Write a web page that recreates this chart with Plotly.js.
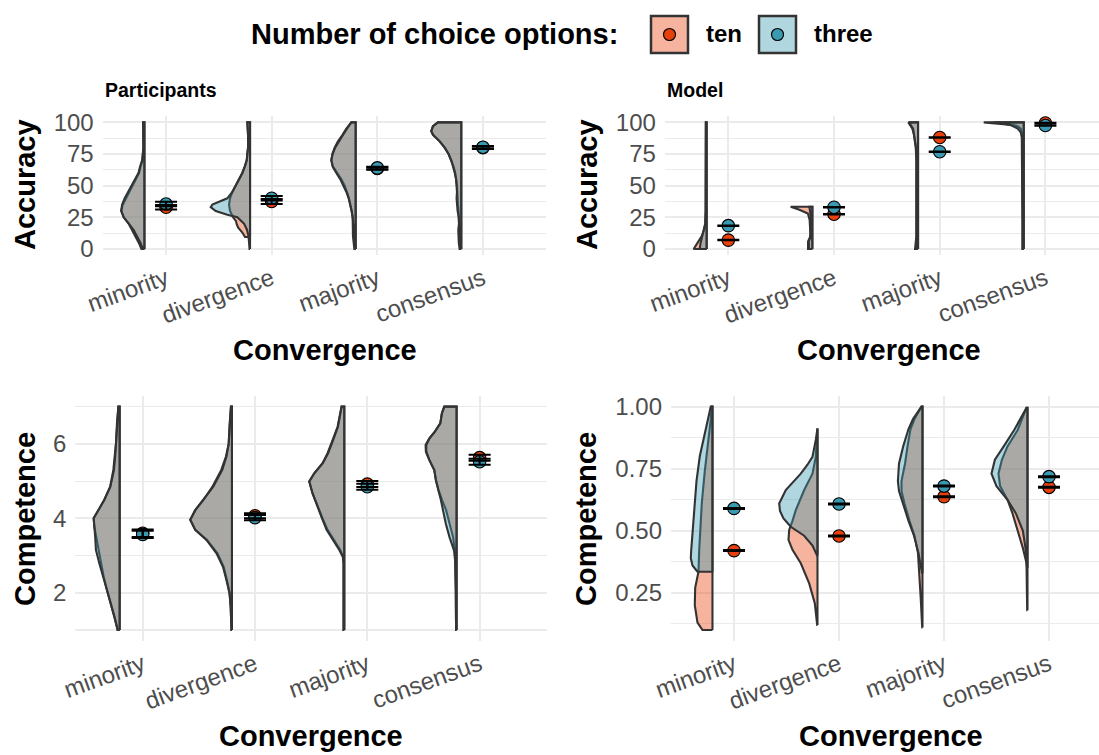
<!DOCTYPE html>
<html>
<head>
<meta charset="utf-8">
<script src="https://cdn.plot.ly/plotly-3.0.1.min.js"></script>
<style>html,body{margin:0;padding:0;background:#fff;}#chart{width:1099px;height:755px;}</style>
</head>
<body>
<div id="chart"></div>
<script>
// ---------------- DATA ----------------
const categories = ['minority', 'divergence', 'majority', 'consensus'];
const groupNames = ['ten', 'three'];

// Density profiles of the half violins: [value, density]
// Participants - Accuracy
const accP_minority_ten   = [[0,3],[5,5.7],[10,9],[15,12.3],[20,15.7],[25,20.7],[30,23],[35,21.7],[40,18.3],[45,14.7],[50,11.3],[55,8.3],[60,5.3],[65,4],[70,2],[80,1],[90,0.8],[100,1.3]];
const accP_minority_three = [[0,1.5],[5,4],[10,7.3],[15,10.7],[20,15.7],[25,20.7],[30,23.3],[35,22.3],[40,19.7],[45,16.3],[50,12.7],[55,9.3],[60,6],[65,4.3],[70,2.3],[80,1],[90,0.8],[100,1.3]];
const accP_divergence_ten   = [[9.5,5],[13,7.7],[17,12],[20,13.5],[22,14],[25,17],[30,20],[35,21],[40,20],[45,17.7],[50,14.3],[55,11],[60,7.7],[65,5.3],[70,3.3],[75,2.7],[80,2],[90,2],[100,2.7]];
const accP_divergence_three = [[0,0.5],[5,1],[10,1.5],[15,3],[20,6],[25,12.7],[27,22.7],[30,34.3],[33,39.3],[35,37.7],[37,31],[40,22.7],[45,17.7],[50,14.3],[55,11],[60,7.7],[65,5.3],[70,3.3],[75,2.7],[80,2],[90,2],[100,2.7]];
const accP_majority_ten   = [[0,1.3],[10,2.7],[20,2.7],[25,3],[30,4],[35,5.3],[40,6.7],[45,8.7],[50,11],[55,14.3],[60,18.7],[65,22.7],[70,24.3],[75,23.3],[80,21],[85,17.7],[90,13.3],[95,9.3],[100,4.3]];
const accP_majority_three = [[0,0.7],[10,1],[20,2],[25,3],[30,4],[35,5.3],[40,7],[45,9.3],[50,12],[55,15.3],[60,19.3],[65,23],[70,24.3],[75,23],[80,20.5],[85,17],[90,12.7],[95,8.7],[100,4.3]];
const accP_consensus_ten   = [[0,1.7],[5,2.5],[10,3],[15,3],[20,2.3],[25,2.3],[30,2.7],[35,3.3],[40,4],[45,4],[50,4.3],[55,5],[60,6],[65,7.7],[70,10],[75,12.7],[80,16.7],[85,21.7],[90,28.3],[93,30],[97,28.3],[100,23.3]];
const accP_consensus_three = [[0,1],[5,1.5],[10,1.7],[15,2],[20,2.3],[25,2.5],[30,3.7],[35,4.3],[40,4.7],[45,4.3],[50,4.5],[55,5.2],[60,6.5],[65,8],[70,10],[75,12.7],[80,16.5],[85,21.5],[90,28],[93,30],[97,28.3],[100,23.3]];

// Model - Accuracy
const accM_minority_ten   = [[0,13],[5,9],[10,5],[15,2.5],[20,1.3],[30,1],[50,0.8],[75,0.8],[100,0.8]];
const accM_minority_three = [[0,7],[5,6],[10,4.5],[15,2.7],[20,1.5],[30,1],[50,0.8],[75,0.8],[100,0.8]];
const accM_divergence_ten   = [[0,4.3],[6,4.3],[9,2.5],[12,2],[20,2.3],[23,2.7],[28,4.5],[31,13],[33.3,21.7]];
const accM_divergence_three = [[0,3.3],[6,3.5],[9,2],[12,1.7],[20,1.7],[28,2],[31,2.5],[33.3,3]];
const accM_majority_ten   = [[0,3],[10,1.7],[30,1.5],[50,1.5],[70,1.7],[80,2.3],[90,4],[95,5.7],[100,9.7]];
const accM_majority_three = [[0,2],[10,1.5],[30,1.3],[50,1.3],[70,1.5],[80,2],[90,3.5],[95,5],[100,9]];
const accM_consensus_ten   = [[0,1.3],[20,1.3],[50,1.3],[80,1.3],[88,1.5],[92,2],[95,3],[97,6],[98,12],[99,25],[100,40]];
const accM_consensus_three = [[0,1],[20,1],[50,1],[80,1.2],[88,1.7],[92,3],[95,6],[97,11],[98,14],[99,20],[100,30]];

// Participants - Competence
const compP_minority_ten   = [[1,2],[1.36,5.3],[1.72,9.3],[2.08,12.7],[2.43,16],[2.79,18.7],[3.15,21.3],[3.51,23.5],[3.78,25.3],[4.0,26],[4.22,21.3],[4.5,15.3],[4.85,9.5],[5.3,6.3],[5.66,5],[6.0,3.7],[6.55,2.7],[7,1.3]];
const compP_minority_three = [[1,2],[1.36,5.3],[1.72,9.3],[2.08,12.7],[2.43,16.5],[2.79,20.3],[3.15,23.7],[3.51,24.5],[3.78,25.3],[4.0,26],[4.22,21.3],[4.5,15.3],[4.85,9.3],[5.3,5.7],[5.66,4.5],[6.0,3.7],[6.55,2.7],[7,1.3]];
const compP_divergence_ten   = [[1,0.5],[1.63,1.3],[1.99,2.3],[2.34,5],[2.70,8.3],[3.06,14.5],[3.42,25],[3.69,36.7],[3.96,41.7],[4.22,36.7],[4.5,28.3],[4.85,19.5],[5.3,10.7],[5.66,6],[6.0,3.3],[6.55,2.3],[7,1]];
const compP_divergence_three = [[1,0.5],[1.63,1.3],[1.99,2.5],[2.34,5.5],[2.70,9],[3.06,15.5],[3.42,25.5],[3.69,36.7],[3.96,41.7],[4.22,36.7],[4.5,28.3],[4.85,18.7],[5.3,9.7],[5.66,5.5],[6.0,3.3],[6.55,2.3],[7,1]];
const compP_majority_ten   = [[1,0.7],[2.79,0.7],[2.97,1.2],[3.15,4],[3.42,10],[3.69,16.7],[4.0,21.7],[4.36,26.7],[4.67,31.7],[4.99,35],[5.21,30],[5.48,21.7],[5.75,16.7],[6.1,11.7],[6.46,6.7],[7,2.7]];
const compP_majority_three = [[1,0.7],[2.79,0.7],[2.97,1.5],[3.15,5],[3.42,11.3],[3.69,17.7],[4.0,22.3],[4.36,27],[4.67,31.7],[4.99,35],[5.21,30],[5.48,21.5],[5.75,16.2],[6.1,11.2],[6.46,6.3],[7,2.7]];
const compP_consensus_ten   = [[1,0.5],[2.06,0.8],[2.78,1.2],[3.13,1.7],[3.49,3.5],[3.85,7.3],[4.22,10.5],[4.49,14.5],[4.76,18],[5.03,20.7],[5.3,22.3],[5.57,27.3],[5.79,30.7],[5.97,31],[6.15,27.3],[6.33,21.7],[6.55,16.3],[6.82,14.7],[7,12.3]];
const compP_consensus_three = [[1,0.5],[2.06,0.8],[2.78,1.2],[3.13,2.5],[3.49,7],[3.85,10.7],[4.22,13.3],[4.49,15.7],[4.76,18.3],[5.03,20.7],[5.3,22.3],[5.57,27.3],[5.79,30.3],[5.97,30.3],[6.15,27],[6.33,21.7],[6.55,16.3],[6.82,14.7],[7,12.3]];

// Model - Competence
const compM_minority_ten   = [[0.1,10],[0.13,15],[0.2,17.7],[0.27,17.3],[0.335,14],[0.42,13.3],[0.51,12.3],[0.61,10.7],[0.74,7.7],[0.88,3.3],[0.95,1.7],[1.0,0.7]];
const compM_minority_three = [[0.335,15],[0.36,20],[0.39,21.7],[0.42,21.3],[0.5,20],[0.6,18.3],[0.7,16],[0.8,12.7],[0.9,7.3],[0.97,3.3],[1.0,1.7]];
const compM_divergence_ten   = [[0.12,0.3],[0.208,2.7],[0.288,8.3],[0.369,16.7],[0.423,25],[0.463,29],[0.503,28.3],[0.54,25],[0.583,21.7],[0.664,13.3],[0.73,5],[0.798,1.7],[0.866,0.7],[0.9125,0.3]];
const compM_divergence_three = [[0.40,0.3],[0.44,5],[0.48,13.3],[0.516,26.7],[0.55,34],[0.58,37.5],[0.61,38.3],[0.664,31.7],[0.70,24],[0.73,16.7],[0.766,10],[0.798,5],[0.866,1.7],[0.9125,0.5]];
const compM_majority_ten   = [[0.11,0.3],[0.23,1.8],[0.33,3.5],[0.41,4.5],[0.48,8],[0.54,13],[0.61,18],[0.66,21],[0.70,21],[0.77,17.5],[0.84,15],[0.91,12],[0.95,8],[1.0,1]];
const compM_majority_three = [[0.33,0.5],[0.41,4],[0.48,8.5],[0.54,14],[0.61,19.5],[0.66,23.5],[0.70,24.6],[0.77,23.5],[0.84,19.3],[0.91,14],[0.95,9.5],[1.0,1]];
const compM_consensus_ten   = [[0.18,0.3],[0.37,1],[0.43,4.6],[0.50,9.8],[0.57,15],[0.625,20],[0.68,27.4],[0.73,29],[0.786,25.6],[0.84,20],[0.906,9.8],[0.995,1]];
const compM_consensus_three = [[0.35,0.3],[0.37,1],[0.43,2],[0.50,4.6],[0.57,11.6],[0.625,20],[0.68,31],[0.73,36],[0.786,32.6],[0.84,23.8],[0.906,13.3],[0.995,1]];

// Means and standard errors per category
const accP_ten_mean   = [33, 37.5, 63.5, 80];
const accP_ten_se     = [1.8, 2, 1, 1];
const accP_three_mean = [35.5, 40, 64, 80.3];
const accP_three_se   = [1.8, 1.8, 1, 1];

const accM_ten_mean   = [7, 27.4, 88, 99.5];
const accM_ten_se     = [0.2, 0.2, 0.2, 0.2];
const accM_three_mean = [18.4, 32.9, 76.8, 97.5];
const accM_three_se   = [0.2, 0.2, 0.2, 0.2];

const compP_ten_mean   = [3.6, 4.07, 4.92, 5.63];
const compP_ten_se     = [0.1, 0.07, 0.08, 0.08];
const compP_three_mean = [3.57, 4.02, 4.85, 5.52];
const compP_three_se   = [0.1, 0.07, 0.08, 0.08];

const compM_ten_mean   = [0.42, 0.479, 0.637, 0.675];
const compM_ten_se     = [0.002, 0.002, 0.002, 0.002];
const compM_three_mean = [0.59, 0.608, 0.68, 0.718];
const compM_three_se   = [0.002, 0.002, 0.002, 0.002];

// Tick labels
const accTicks = [0, 25, 50, 75, 100];
const accMinor = [12.5, 37.5, 62.5, 87.5];
const compPTicks = [2, 4, 6];
const compPMinor = [1, 3, 5, 7];
const compMTicks = [0.25, 0.5, 0.75, 1.0];
const compMTickText = ['0.25', '0.50', '0.75', '1.00'];
const compMMinor = [0.125, 0.375, 0.625, 0.875];

// ---------------- STYLE ----------------
const W = 1099, H = 755;
const FONT = 'Liberation Sans, Arial, Helvetica, sans-serif';
const pointColor = {ten: '#E8400C', three: '#3A9AB2'};
const fillColor = {ten: 'rgba(232,64,12,0.4)', three: 'rgba(58,154,178,0.4)'};
const keyFill = {ten: '#F6B39E', three: '#B0D7E0'};
const outline = '#333333';
const grid = '#EBEBEB';
const offset = 0.205;
const tickSize = 24;

const panels = [
  {xa: 'x', ya: 'y', pxPerCat: 105.6,
   prof: {minority: [accP_minority_ten, accP_minority_three], divergence: [accP_divergence_ten, accP_divergence_three], majority: [accP_majority_ten, accP_majority_three], consensus: [accP_consensus_ten, accP_consensus_three]},
   mean: [accP_ten_mean, accP_three_mean], se: [accP_ten_se, accP_three_se]},
  {xa: 'x2', ya: 'y2', pxPerCat: 105.7,
   prof: {minority: [accM_minority_ten, accM_minority_three], divergence: [accM_divergence_ten, accM_divergence_three], majority: [accM_majority_ten, accM_majority_three], consensus: [accM_consensus_ten, accM_consensus_three]},
   mean: [accM_ten_mean, accM_three_mean], se: [accM_ten_se, accM_three_se]},
  {xa: 'x3', ya: 'y3', pxPerCat: 112.3,
   prof: {minority: [compP_minority_ten, compP_minority_three], divergence: [compP_divergence_ten, compP_divergence_three], majority: [compP_majority_ten, compP_majority_three], consensus: [compP_consensus_ten, compP_consensus_three]},
   mean: [compP_ten_mean, compP_three_mean], se: [compP_ten_se, compP_three_se]},
  {xa: 'x4', ya: 'y4', pxPerCat: 105,
   prof: {minority: [compM_minority_ten, compM_minority_three], divergence: [compM_divergence_ten, compM_divergence_three], majority: [compM_majority_ten, compM_majority_three], consensus: [compM_consensus_ten, compM_consensus_three]},
   mean: [compM_ten_mean, compM_three_mean], se: [compM_ten_se, compM_three_se]}
];

const traces = [];
panels.forEach(p => {
  categories.forEach((cat, ci) => {
    const base = (ci + 1) - offset;
    p.prof[cat].forEach((prof, gi) => {
      const g = groupNames[gi];
      const ys = prof.map(d => d[0]);
      const xs = prof.map(d => base - d[1] / p.pxPerCat);
      const x = [base].concat(xs, [base, base]);
      const y = [ys[0]].concat(ys, [ys[ys.length - 1], ys[0]]);
      traces.push({type: 'scatter', mode: 'lines', x: x, y: y, xaxis: p.xa, yaxis: p.ya,
        fill: 'toself', fillcolor: fillColor[g], line: {color: outline, width: 2.1},
        hoverinfo: 'skip', showlegend: false});
    });
  });
  groupNames.forEach((g, gi) => {
    traces.push({type: 'scatter', mode: 'markers', x: [1, 2, 3, 4], y: p.mean[gi], xaxis: p.xa, yaxis: p.ya,
      marker: {size: 12.5, color: pointColor[g], line: {color: '#000', width: 1.1}},
      hoverinfo: 'skip', showlegend: false});
  });
  groupNames.forEach((g, gi) => {
    traces.push({type: 'scatter', mode: 'markers', x: [1, 2, 3, 4], y: p.mean[gi], xaxis: p.xa, yaxis: p.ya,
      marker: {size: 1, opacity: 0},
      error_y: {type: 'data', array: p.se[gi], visible: true, color: '#000', thickness: 2, width: 11},
      hoverinfo: 'skip', showlegend: false});
  });
});

function xAxis(domain, range, anchor) {
  return {domain: domain, range: range, anchor: anchor, tickmode: 'array', tickvals: [1, 2, 3, 4], ticktext: categories,
    tickangle: -20, showgrid: true, gridcolor: grid, gridwidth: 2, zeroline: false, showline: false, ticks: '',
    ticklabelstandoff: 4,
    tickfont: {family: FONT, size: tickSize, color: '#4D4D4D'}, fixedrange: true};
}
function yAxis(domain, range, anchor, tickvals, ticktext, minorvals) {
  return {domain: domain, range: range, anchor: anchor, tickmode: 'array', tickvals: tickvals, ticktext: ticktext,
    showgrid: true, gridcolor: grid, gridwidth: 2, zeroline: false, showline: false, ticks: '',
    ticklabelstandoff: 8,
    minor: {tickmode: 'array', tickvals: minorvals, showgrid: true, gridcolor: grid, gridwidth: 1.2, ticks: ''},
    tickfont: {family: FONT, size: tickSize, color: '#4D4D4D'}, fixedrange: true};
}

const px = v => v / W;
const py = v => 1 - v / H;

const topDom = [py(255.3), py(116)];
const botDom = [py(641.2), py(395.5)];

const layout = {
  width: W, height: H, margin: {l: 0, r: 0, t: 0, b: 0}, paper_bgcolor: '#fff', plot_bgcolor: '#fff',
  showlegend: false, hovermode: false,
  xaxis:  xAxis([px(102.7), px(546.3)], [0.4, 4.6], 'y'),
  yaxis:  yAxis(topDom, [-5, 105], 'x', accTicks, accTicks.map(String), accMinor),
  xaxis2: xAxis([px(664.9), 1], [0.4, 4.507], 'y2'),
  yaxis2: yAxis(topDom, [-5, 105], 'x2', accTicks, accTicks.map(String), accMinor),
  xaxis3: xAxis([px(75.3), px(547)], [0.4, 4.6], 'y3'),
  yaxis3: yAxis(botDom, [0.7, 7.3], 'x3', compPTicks, compPTicks.map(String), compPMinor),
  xaxis4: xAxis([px(671), 1], [0.4, 4.476], 'y4'),
  yaxis4: yAxis(botDom, [0.055, 1.045], 'x4', compMTicks, compMTickText, compMMinor),
  annotations: [],
  shapes: []
};

const ann = (text, x, y, size, opts) => Object.assign({text: text, x: px(x), y: py(y), xref: 'paper', yref: 'paper',
  showarrow: false, font: {family: FONT, size: size, color: '#000'}, xanchor: 'center', yanchor: 'middle'}, opts || {});

layout.annotations.push(ann('<b>Participants</b>', 103, 90, 19.5, {xanchor: 'left'}));
layout.annotations.push(ann('<b>Model</b>', 665, 90, 19.5, {xanchor: 'left'}));
layout.annotations.push(ann('<b>Accuracy</b>', 25, 185, 29, {textangle: -90}));
layout.annotations.push(ann('<b>Accuracy</b>', 587, 185, 29, {textangle: -90}));
layout.annotations.push(ann('<b>Competence</b>', 25, 519, 29, {textangle: -90}));
layout.annotations.push(ann('<b>Competence</b>', 586, 519, 29, {textangle: -90}));
layout.annotations.push(ann('<b>Convergence</b>', 325, 350, 29));
layout.annotations.push(ann('<b>Convergence</b>', 889, 350, 29));
layout.annotations.push(ann('<b>Convergence</b>', 311, 736, 29));
layout.annotations.push(ann('<b>Convergence</b>', 891, 736, 29));

// Legend
layout.annotations.push(ann('<b>Number of choice options:</b>', 249, 34, 29, {xanchor: 'left'}));
const keys = [{g: 'ten', x0: 651, tx: 704}, {g: 'three', x0: 759, tx: 812}];
keys.forEach(k => {
  layout.shapes.push({type: 'rect', xref: 'paper', yref: 'paper', x0: px(k.x0), x1: px(k.x0 + 37), y0: py(53), y1: py(16),
    fillcolor: keyFill[k.g], line: {color: outline, width: 2.5}});
  const cx = k.x0 + 18.5, cy = 34.5, r = 6;
  layout.shapes.push({type: 'circle', xref: 'paper', yref: 'paper', x0: px(cx - r), x1: px(cx + r), y0: py(cy + r), y1: py(cy - r),
    fillcolor: pointColor[k.g], line: {color: '#000', width: 1.2}});
  layout.annotations.push(ann('<b>' + k.g + '</b>', k.tx, 34, 24, {xanchor: 'left'}));
});

Plotly.newPlot('chart', traces, layout, {displayModeBar: false, staticPlot: true});
</script>
</body>
</html>
